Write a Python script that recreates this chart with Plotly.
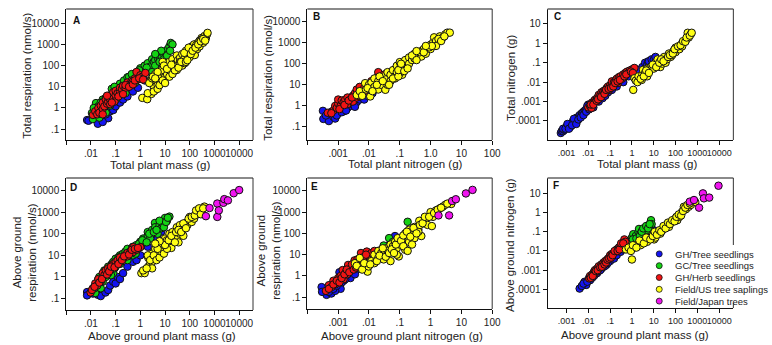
import plotly.graph_objects as go

W, H = 772, 345
def px(x): return x / W
def py(y): return 1 - y / H

SERIES = ["GH/Tree seedlings", "GC/Tree seedlings", "GH/Herb seedlings", "Field/US tree saplings", "Field/Japan trees"]
COLORS = ["#1414f0", "#14d214", "#f01414", "#ffff14", "#f014f0"]

# Each series: list of (x, y) points.
# ---------------- Panel A: total plant mass (g) vs total respiration (nmol/s)
A_blue = [(0.007,0.27),(0.008,0.25),(0.019,0.18),(0.05,0.33),(0.03,0.22),(0.012,0.35),(0.025,0.45),(0.04,0.5),(0.06,0.7),
          (0.08,0.8),(0.1,1.2),(0.15,1.8),(0.2,2.5),(0.3,3.5),(0.5,6),(0.8,9),(1.5,20),(3,45),(5,120),(7,150),(9,200)]
A_green = [(0.011,0.58),(0.012,0.3),(0.015,0.9),(0.016,1.7),(0.018,0.5),(0.02,1.2),(0.022,0.35),(0.025,0.8),(0.03,1.5),(0.03,2.5),
           (0.035,1),(0.04,3),(0.045,1.8),(0.05,2),(0.06,4),(0.06,1.3),(0.07,8),(0.08,3),(0.09,5),(0.1,2.5),(0.1,7),(0.12,10),
           (0.14,4),(0.15,14),(0.18,8),(0.2,12),(0.22,20),(0.25,10),(0.3,15),(0.3,28),(0.35,18),(0.4,25),(0.5,20),(0.5,29),
           (0.6,35),(0.7,30),(0.8,45),(1,75),(1.1,50),(1.3,60),(1.5,100),(2,130),(2.1,70),(2.5,90),(2.5,17),(3,200),(3.5,150),
           (4,180),(5,316),(5.2,220),(6,250),(7,300),(8,400),(10,440),(11,350),(13,600),(15,800),(17,1170),(20,1000),
           (0.013,1),(0.025,1.8),(0.04,0.6),(0.07,2),(0.09,10),(0.11,3),(0.16,6),(0.25,5),(0.35,30),(0.45,40),(0.6,15),
           (0.9,60),(1.2,25),(1.8,80),(3,50),(4,100),(6,150),(9,200),(12,300),(16,500),(7,500),(4,350)]
A_red = [(0.012,0.47),(0.015,0.7),(0.018,0.5),(0.02,1),(0.022,0.6),(0.025,1.3),(0.03,0.9),(0.03,1.8),(0.035,1.2),(0.04,2.5),
         (0.045,1.6),(0.05,2),(0.05,3.2),(0.06,2.5),(0.07,4),(0.08,3),(0.08,5.5),(0.1,4),(0.1,6.5),(0.12,5),(0.15,6),(0.15,9),
         (0.18,8),(0.2,11),(0.25,9),(0.3,13),(0.3,16),(0.4,14),(0.45,20),(0.5,18),(0.6,25),(0.7,50),(0.8,22),(1,35),(1.2,30),
         (1.6,45),(0.03,0.5),(0.06,1.5),(0.09,2),(0.13,3.5),(0.2,4.5),(0.25,12),(0.35,10),(0.5,13),(0.6,20),(0.9,25),
         (1.3,22),(0.045,3.8),(0.07,1.8)]
A_yellow = [(1.2,3),(1.9,2.6),(2.8,4.6),(4,7),(3.5,10),(2.7,21),(2.3,15),(3,25),(4.5,18),(5,12),(6,20),(5,35),(7,30),(8,50),
            (4,40),(3.2,30),(6.5,15),(9,60),(10,29),(10,80),(12,100),(15,50),(15,150),(17,85),(20,80),(20,200),(25,120),
            (30,62),(30,300),(33,180),(40,230),(40,150),(50,100),(50,350),(60,200),(63,130),(70,500),(80,300),(100,550),
            (100,250),(120,800),(150,400),(150,1000),(160,316),(200,600),(210,1170),(250,1500),(250,800),(300,2000),
            (350,1200),(400,2500),(450,2000),(500,3000),(525,3500),(8,150),(12,40),(25,90),(40,130),(60,400),(90,700),
            (180,900),(300,1700),(15,30),(20,40),(25,60),(35,80),(45,150),(70,150),(80,180),(110,350),(130,500),(170,700),
            (220,1000),(280,1400),(350,1800),(420,1500),(2,5),(3.5,6),(5,8),(6,12),(8,20),(10,15),(7,60),(9,100),(12,70),
            (18,110),(5,50),(4,25)]

# ---------------- Panel B: total plant nitrogen (g) vs total respiration
B_blue = [(0.00032,0.58),(0.00033,0.24),(0.0005,0.19),(0.0006,0.52),(0.0007,0.3),(0.0008,0.25),(0.001,0.45),(0.0012,0.6),
          (0.0015,0.55),(0.002,0.8),(0.0025,1),(0.003,1.2),(0.004,1.5),(0.005,2),(0.006,2.5),(0.008,4),(0.01,6),(0.012,5),
          (0.015,10),(0.02,27),(0.03,30),(0.05,40),(0.08,60),(0.0004,0.35),(0.0009,0.35),(0.0013,0.5),(0.0018,0.6),
          (0.0035,0.9),(0.007,2),(0.009,3),(0.013,4),(0.02,8),(0.04,15)]
B_red = [(0.00046,0.47),(0.0007,0.6),(0.0008,1),(0.0009,0.8),(0.001,1.3),(0.001,2),(0.0012,1),(0.0013,1.8),(0.0015,1.5),
         (0.0017,2),(0.002,1.2),(0.002,2.5),(0.0025,2),(0.003,3),(0.003,1.6),(0.0035,4),(0.004,2.5),(0.004,6),(0.005,4),
         (0.005,8),(0.006,5),(0.007,7),(0.008,6),(0.009,9),(0.01,10),(0.012,8),(0.015,12),(0.02,15),(0.02,40),(0.03,20),
         (0.035,25),(0.012,15),(0.018,18),(0.0006,0.45),(0.0011,0.7),(0.0016,1.1),(0.0022,1.8),(0.0028,2.5),(0.0045,3),
         (0.007,4.5),(0.011,7),(0.014,9),(0.025,12),(0.03,30)]
B_yellow = [(0.004,3.3),(0.005,5),(0.0075,12),(0.008,6),(0.01,10),(0.011,2.8),(0.012,13),(0.015,8),(0.015,20),(0.02,6),
            (0.02,15),(0.025,10),(0.03,25),(0.034,5.8),(0.035,18),(0.04,40),(0.05,15),(0.05,30),(0.06,50),(0.07,25),
            (0.08,80),(0.08,40),(0.1,60),(0.1,120),(0.12,30),(0.13,100),(0.15,150),(0.15,70),(0.2,200),(0.2,100),
            (0.25,150),(0.3,300),(0.3,180),(0.4,250),(0.5,400),(0.5,220),(0.6,500),(0.7,300),(0.8,600),(1,800),(1,500),
            (1.2,1000),(1.3,1800),(1.5,1200),(1.5,700),(2,1500),(2,2000),(2.5,1800),(3,2500),(3.5,3000),(4.2,3000),
            (0.04,10),(0.07,20),(0.1,35),(0.006,3),(0.009,7),(0.013,5),(0.018,10),(0.022,25),(0.028,15),(0.045,10),
            (0.06,20),(0.09,25),(0.09,50),(0.11,100),(0.14,45),(0.18,60),(0.25,250),(0.35,150),(0.45,350),(0.6,350),
            (0.9,600),(1.1,700),(1.8,1500),(2.2,1200),(2.8,2000),(0.7,700),(0.35,400)]

# ---------------- Panel C: total plant mass (g) vs total nitrogen (g)
C_blue = [(0.00055,0.000024),(0.0006,0.00003),(0.0007,0.00003),(0.0008,0.000035),(0.001,0.00005),(0.0012,0.00005),
          (0.0015,0.00007),(0.0015,0.00005),(0.002,0.0001),(0.002,0.00008),(0.0025,0.0001),(0.003,0.00015),(0.003,0.0001),
          (0.004,0.0002),(0.005,0.00025),(0.005,0.0002),(0.006,0.0003),(0.007,0.00035),(0.008,0.0004),(0.01,0.0005),
          (0.01,0.0007),(0.012,0.0006),(0.015,0.0008),(0.02,0.001),(0.02,0.0012),(0.025,0.0014),(0.03,0.0015),(0.04,0.002),
          (0.05,0.0025),(0.07,0.004),(0.1,0.005),(0.15,0.008),(0.3,0.012),(0.5,0.02),(1,0.03),(1.5,0.04),(3,0.05),(3,0.06),
          (4,0.1),(5,0.08),(5.5,0.115),(6,0.12),(8,0.15),(10,0.14),(12,0.2),
          (0.0007,0.00004),(0.0009,0.00004),(0.0011,0.00007),(0.0013,0.00004),(0.0018,0.00006),(0.0022,0.00013),
          (0.0028,0.00007),(0.0035,0.00012),(0.0045,0.00015),(0.006,0.0002),(0.008,0.0003),(0.009,0.0006),(0.011,0.0004),
          (0.014,0.0006),(0.017,0.0005),(0.03,0.001),(0.035,0.002),(0.045,0.0015),(0.06,0.002),(0.08,0.003),(0.12,0.004),
          (0.2,0.006),(0.25,0.01),(0.4,0.01),(0.7,0.02),(2,0.04)]
C_red = [(0.01,0.0005),(0.012,0.0006),(0.014,0.00047),(0.015,0.0009),(0.018,0.001),(0.02,0.0012),(0.022,0.001),(0.025,0.0015),
         (0.03,0.0017),(0.03,0.0022),(0.035,0.002),(0.04,0.003),(0.045,0.0025),(0.05,0.0035),(0.06,0.004),(0.06,0.003),
         (0.07,0.005),(0.08,0.006),(0.09,0.004),(0.1,0.007),(0.12,0.008),(0.12,0.011),(0.15,0.01),(0.18,0.012),(0.2,0.015),
         (0.23,0.009),(0.25,0.018),(0.3,0.02),(0.35,0.015),(0.4,0.025),(0.5,0.03),(0.5,0.022),(0.6,0.035),(0.7,0.03),
         (0.8,0.04),(1,0.045),(1.2,0.05),(1.3,0.054),(0.013,0.0007),(0.017,0.0007),(0.024,0.0011),(0.028,0.0013),
         (0.038,0.0017),(0.055,0.0025),(0.065,0.004),(0.085,0.0045),(0.11,0.005),(0.14,0.006),(0.17,0.009),(0.22,0.011),
         (0.28,0.013),(0.45,0.02),(0.55,0.025),(0.9,0.035),(1.1,0.03)]
C_yellow = [(1.15,0.004),(1.3,0.016),(1.5,0.012),(1.8,0.01),(2,0.02),(2.8,0.013),(3,0.025),(3.2,0.043),(4,0.03),(5,0.02),
            (5,0.05),(6,0.04),(7,0.06),(8,0.07),(10,0.05),(11,0.077),(12,0.1),(15,0.08),(15,0.15),(20,0.06),(20,0.12),
            (25,0.09),(30,0.2),(35,0.1),(40,0.15),(50,0.3),(60,0.2),(70,0.25),(80,0.4),(100,0.6),(100,0.35),(120,0.5),
            (150,0.5),(200,1),(200,0.7),(250,1.2),(300,1.5),(360,3.5),(400,2),(500,3),(2.5,0.015),(3.5,0.02),(4.5,0.04),
            (6,0.03),(9,0.08),(13,0.06),(18,0.1),(22,0.15),(28,0.12),(45,0.2),(55,0.25),(75,0.3),(90,0.5),(130,0.7),
            (170,0.8),(220,1.3),(280,1.2),(320,2),(450,2.5),(550,3.5)]

# ---------------- Panel D: above ground plant mass (g) vs above ground respiration
D_blue = [(0.007,0.2),(0.007,0.14),(0.012,0.17),(0.019,0.15),(0.025,0.13),(0.039,0.19),(0.05,0.25),(0.06,0.4),(0.08,0.6),
          (0.1,0.5),(0.12,1),(0.15,0.8),(0.2,1.5),(0.3,3),(0.5,5),(0.7,6),(1,10),(2,25),(4,52),(5,60),(7,125)]
D_green = [(0.012,0.25),(0.015,0.18),(0.018,0.4),(0.02,0.8),(0.021,0.53),(0.025,0.3),(0.03,1.2),(0.03,0.6),(0.035,2),
           (0.04,1),(0.05,1.5),(0.05,3),(0.06,2),(0.07,4),(0.08,1.5),(0.08,5),(0.1,3),(0.1,7),(0.12,5),(0.15,4),(0.15,10),
           (0.2,8),(0.2,12),(0.25,15),(0.3,6),(0.3,20),(0.4,14),(0.5,10),(0.5,25),(0.6,18),(0.7,30),(0.8,22),(1,43),
           (1.1,30),(1.3,60),(1.5,45),(2,80),(2,120),(2.5,60),(3,150),(3.9,316),(4,200),(5,100),(6,250),(7,180),(8,300),
           (10,540),(12,400),(15,620),(0.014,0.3),(0.022,1),(0.027,0.8),(0.045,2),(0.065,1.2),(0.09,2.5),(0.11,4),
           (0.13,8),(0.18,6),(0.23,10),(0.35,12),(0.45,20),(0.65,12),(0.9,35),(1.2,50),(1.8,40),(2.3,100),(3.5,120),
           (4.5,150),(6,400),(9,200),(11,350),(13,550)]
D_red = [(0.0097,0.19),(0.012,0.3),(0.015,0.5),(0.018,0.4),(0.02,0.8),(0.025,0.6),(0.03,1),(0.03,1.5),(0.035,1.2),(0.04,2),
         (0.05,1.5),(0.05,2.5),(0.06,2.2),(0.07,3),(0.08,4),(0.1,3.5),(0.1,5),(0.12,6),(0.15,5),(0.15,8),(0.2,7),(0.25,10),
         (0.3,9),(0.3,13),(0.4,15),(0.5,14),(0.52,24),(0.7,18),(1,24),(0.011,0.25),(0.014,0.35),(0.022,0.55),(0.028,0.8),
         (0.045,1.3),(0.055,1.8),(0.065,3),(0.09,2.8),(0.13,4),(0.18,6),(0.22,9),(0.35,11),(0.45,18),(0.6,20),(0.8,22)]
D_yellow = [(1.1,1.5),(1.5,1.5),(2.1,3),(2.1,7.6),(2.5,4),(3,5),(3,12),(4,8),(4,20),(5,10),(5,30),(6,15),(7,40),(8,25),
            (10,20),(10,60),(12,35),(15,30),(15,100),(20,50),(20,120),(25,70),(30,60),(30,200),(40,100),(40,250),(50,150),
            (60,200),(69,316),(80,250),(100,400),(100,600),(120,350),(150,500),(200,800),(210,1050),(250,900),(300,1200),
            (390,1800),(2,10),(3,2.5),(8,12),(12,50),(18,22),(35,40),(55,80),(1.3,2),(1.8,2.5),(2.5,6),(3.5,10),(4.5,6),
            (6,8),(7,15),(9,12),(12,20),(10,30),(14,50),(18,80),(25,40),(28,120),(35,150),(45,120),(55,300),(70,180),
            (90,500),(120,600),(160,700),(180,1200),(240,1500),(280,800),(350,1500),(6,45),(5,20),(4,35)]
D_magenta = [(450,650),(630,1550),(1300,600),(1300,2500),(1500,1200),(2300,2700),(2500,4000),(3500,3500),(6000,7500),(10000,10500)]

# ---------------- Panel E: above ground plant nitrogen (g) vs above ground respiration
E_blue = [(0.00029,0.3),(0.00042,0.13),(0.0006,0.15),(0.0011,0.64),(0.0011,1.5),(0.0012,0.25),(0.0008,0.2),(0.0015,0.6),
          (0.002,1),(0.0025,0.8),(0.003,1.5),(0.004,2),(0.005,2.5),(0.007,3),(0.01,5),(0.015,8),(0.02,12),(0.03,20),
          (0.05,35),(0.07,75),(0.0003,0.18),(0.0005,0.18),(0.0007,0.25),(0.0009,0.35),(0.0013,0.5),(0.0017,0.7),
          (0.0035,1.2),(0.006,2.2),(0.012,6),(0.04,25)]
E_green = [(0.015,8),(0.02,15),(0.03,27),(0.04,20),(0.045,60),(0.06,40),(0.18,350)]
E_red = [(0.0004,0.2),(0.0005,0.37),(0.0006,0.3),(0.0007,0.6),(0.0008,0.4),(0.001,0.5),(0.001,0.8),(0.0012,1),(0.0014,1.9),
         (0.0015,0.7),(0.0018,1.5),(0.002,1.2),(0.0021,3.3),(0.0025,2),(0.003,2.5),(0.0034,5.4),(0.004,4),(0.0045,3),
         (0.005,6),(0.0055,12),(0.006,5),(0.007,8),(0.0085,14),(0.01,9),(0.012,12),(0.015,15),(0.0005,0.25),(0.0007,0.4),
         (0.0009,0.6),(0.0011,0.5),(0.0013,0.8),(0.0016,1.2),(0.0019,2),(0.0023,1.5),(0.0028,3.5),(0.0032,2),(0.0038,2.5),
         (0.0042,6),(0.0065,7),(0.008,10)]
E_yellow = [(0.0035,4),(0.005,7),(0.009,1.6),(0.0097,2.8),(0.012,5),(0.015,4),(0.015,10),(0.02,7),(0.02,15),(0.025,12),
            (0.03,10),(0.035,20),(0.04,15),(0.05,5),(0.05,30),(0.06,25),(0.07,40),(0.08,20),(0.093,8.3),(0.1,60),(0.1,30),
            (0.12,50),(0.15,17),(0.15,100),(0.2,40),(0.2,150),(0.25,80),(0.3,60),(0.3,200),(0.4,150),(0.43,390),(0.5,75),
            (0.6,300),(0.7,500),(0.8,250),(1,1000),(1.1,220),(1.2,600),(1.5,1200),(2,1500),(2.5,1800),(3,2200),(4.7,2400),
            (0.08,10),(0.03,6),(0.4,120),(0.004,3),(0.006,2),(0.007,4),(0.011,3.5),(0.018,5),(0.022,9),(0.028,20),
            (0.035,8),(0.045,12),(0.055,18),(0.065,12),(0.075,30),(0.085,60),(0.11,45),(0.13,80),(0.13,25),(0.17,120),
            (0.22,70),(0.28,180),(0.35,100),(0.45,250),(0.55,300),(0.65,600),(0.9,600),(1.3,900),(1.7,1300),(2.2,1600),
            (3.5,2500),(0.25,30),(0.18,15)]
E_magenta = [(1.8,700),(4,700),(5,3300),(6.6,4000),(14,7500),(23,11000)]

# ---------------- Panel F: above ground plant mass (g) vs above ground nitrogen (g)
F_blue = [(0.004,0.00011),(0.0068,0.00025),(0.008,0.00017),(0.01,0.0003),(0.012,0.0003),(0.015,0.0004),(0.02,0.0006),
          (0.025,0.0007),(0.03,0.0009),(0.04,0.0012),(0.05,0.0015),(0.07,0.002),(0.1,0.003),(0.15,0.004),(0.2,0.006),
          (0.3,0.009),(0.5,0.015),(3,0.05),(5,0.08),(7,0.1),(10,0.12),(0.005,0.00015),(0.006,0.0002),(0.009,0.00025),
          (0.011,0.0004),(0.018,0.0005),(0.035,0.001),(0.06,0.0017),(0.08,0.0025),(0.4,0.012),(4,0.06),(6,0.1),(8,0.11)]
F_green = [(0.76,0.034),(1,0.05),(1.15,0.075),(1.5,0.06),(2,0.1),(2.1,0.14),(2.5,0.08),(3,0.12),(3.5,0.1),(4,0.15),(5,0.12),
           (6,0.2),(7.3,0.31),(7.5,0.4),(8,0.25),(0.9,0.02),(1.3,0.04),(1.8,0.03),(0.8,0.025),(1.1,0.04),(1.6,0.045),
           (2.3,0.06),(2.8,0.1),(3.3,0.15),(4.5,0.2),(5.5,0.15),(6.5,0.25)]
F_red = [(0.011,0.00037),(0.012,0.0005),(0.015,0.0006),(0.018,0.0008),(0.02,0.0007),(0.02,0.001),(0.025,0.0012),(0.03,0.0012),
         (0.03,0.0016),(0.04,0.002),(0.045,0.0018),(0.05,0.0025),(0.06,0.003),(0.07,0.003),(0.08,0.004),(0.1,0.005),
         (0.1,0.006),(0.12,0.007),(0.15,0.008),(0.18,0.01),(0.2,0.012),(0.25,0.015),(0.3,0.018),(0.35,0.02),(0.45,0.04),
         (0.5,0.03),(0.013,0.0004),(0.016,0.0005),(0.022,0.0009),(0.027,0.001),(0.035,0.0014),(0.042,0.0015),(0.055,0.002),
         (0.065,0.0025),(0.075,0.0035),(0.09,0.004),(0.11,0.0045),(0.13,0.006),(0.16,0.01),(0.22,0.01),(0.27,0.012),
         (0.32,0.025),(0.4,0.025)]
F_yellow = [(0.53,0.012),(1,0.0036),(1.3,0.015),(1.5,0.02),(2,0.025),(2.5,0.02),(3,0.03),(4,0.04),(5,0.03),(6,0.05),(8,0.06),
            (10,0.08),(10.4,0.04),(12,0.05),(15,0.1),(20,0.08),(25,0.12),(30,0.15),(40,0.2),(50,0.18),(60,0.3),(80,0.35),
            (100,0.5),(120,0.4),(150,0.6),(200,1.1),(240,2),(300,1.5),(400,2),(500,2.5),(680,4.2),(800,3.5),(0.7,0.015),
            (0.9,0.01),(1.1,0.02),(1.6,0.015),(2.2,0.035),(3.5,0.025),(4.5,0.05),(7,0.04),(9,0.06),(11,0.1),(14,0.07),
            (18,0.12),(22,0.1),(28,0.2),(35,0.15),(45,0.3),(55,0.25),(70,0.4),(90,0.35),(110,0.6),(140,0.8),(180,0.7),
            (220,1.2),(280,1.8),(350,2.5),(450,3)]
F_magenta = [(450,3.7),(700,4.5),(1200,1.8),(1800,10),(2000,5.5),(3500,6),(9300,25)]

# tick labels
MASS_VALS = [0.001,0.01,0.1,1,10,100,1000,10000]
MASS_TEXT_AD = ["", ".01", ".1", "1", "10", "100", "1000", "10000"]
MASS_TEXT_CF = [".001", ".01", ".1", "1", "10", "100", "1000", "10000"]
N_VALS = [0.0001,0.001,0.01,0.1,1,10,100]
N_TEXT_B = ["", ".001", ".01", ".1", "1.0", "10", "100"]
N_TEXT_E = ["", ".001", ".01", ".1", "1", "10", "100"]
RESP_VALS = [0.1,1,10,100,1000,10000]
RESP_TEXT = [".1", "1", "10", "100", "1000", "10000"]
NIT_VALS = [0.0001,0.001,0.01,0.1,1,10]
NIT_TEXT = [".0001", ".001", ".01", ".1", "1", "10"]

panels = [
    dict(L="A", xd=(67,256), yd=(9,140), xr=(-3,4.56), yr=(-1.51,4.67), xv=MASS_VALS, xt=MASS_TEXT_AD, yv=RESP_VALS, yt=RESP_TEXT,
         data=[(A_blue,0),(A_green,1),(A_red,2),(A_yellow,3)], xfs=10,
         xtitle=("Total plant mass (g)",162,165), ytitle=("Total respiration (nmol/s)",27,76), lab=(77,20)),
    dict(L="B", xd=(311,498), yd=(9,140), xr=(-4,2), yr=(-1.62,4.6), xv=N_VALS, xt=N_TEXT_B, yv=RESP_VALS, yt=RESP_TEXT,
         data=[(B_blue,0),(B_red,2),(B_yellow,3)], xfs=10,
         xtitle=("Total plant nitrogen (g)",410,164), ytitle=("Total respiration (nmol/s)",271,78), lab=(320,17)),
    dict(L="C", xd=(554,742), yd=(9,140), xr=(-3.87,4.65), yr=(-4.98,1.77), xv=MASS_VALS, xt=MASS_TEXT_CF, yv=NIT_VALS, yt=NIT_TEXT,
         data=[(C_blue,0),(C_red,2),(C_yellow,3)], xfs=9,
         xtitle=("Total plant mass (g)",655,164), ytitle=("Total nitrogen (g)",517,78), lab=(564,17)),
    dict(L="D", xd=(67,256), yd=(178,310), xr=(-3,4.56), yr=(-1.53,4.58), xv=MASS_VALS, xt=MASS_TEXT_AD, yv=RESP_VALS, yt=RESP_TEXT,
         data=[(D_blue,0),(D_green,1),(D_red,2),(D_yellow,3),(D_magenta,4)], xfs=10,
         xtitle=("Above ground plant mass (g)",164,335.5), ytitle=("Above ground<br>respiration (nmol/s)",24,252), lab=(74,187)),
    dict(L="E", xd=(311,498), yd=(178,309), xr=(-4,2), yr=(-1.55,4.6), xv=N_VALS, xt=N_TEXT_E, yv=RESP_VALS, yt=RESP_TEXT,
         data=[(E_blue,0),(E_green,1),(E_red,2),(E_yellow,3),(E_magenta,4)], xfs=10,
         xtitle=("Above ground plant nitrogen (g)",407,335.5), ytitle=("Above ground<br>respiration (nmol/s)",271,250), lab=(318,186)),
    dict(L="F", xd=(554,742), yd=(178,308), xr=(-3.87,4.65), yr=(-4.97,1.8), xv=MASS_VALS, xt=MASS_TEXT_CF, yv=NIT_VALS, yt=NIT_TEXT,
         data=[(F_blue,0),(F_green,1),(F_red,2),(F_yellow,3),(F_magenta,4)], xfs=9,
         xtitle=("Above ground plant mass (g)",642,335), ytitle=("Above ground nitrogen (g)",516,245), lab=(563,185)),
]

FONT = "Liberation Sans, Arial, sans-serif"
TXT = "#222222"
fig = go.Figure()
layout = dict(width=W, height=H, margin=dict(l=0, r=0, t=0, b=0), showlegend=False,
              paper_bgcolor="white", plot_bgcolor="white", font=dict(family=FONT, color=TXT, size=10))
annotations, shapes = [], []

for i, p in enumerate(panels):
    n = i + 1
    xa = "xaxis" if n == 1 else f"xaxis{n}"
    ya = "yaxis" if n == 1 else f"yaxis{n}"
    xref = "x" if n == 1 else f"x{n}"
    yref = "y" if n == 1 else f"y{n}"
    common = dict(type="log", showline=True, linecolor="#111", linewidth=1, ticks="outside", ticklen=4, tickangle=0,
                  tickcolor="#111", showgrid=False, zeroline=False)
    layout[xa] = dict(common, domain=[px(p["xd"][0]), px(p["xd"][1])], range=list(p["xr"]), anchor=yref,
                      tickmode="array", tickvals=p["xv"], ticktext=p["xt"],
                      tickfont=dict(size=p["xfs"], family=FONT, color=TXT))
    layout[ya] = dict(common, domain=[py(p["yd"][1]), py(p["yd"][0])], range=list(p["yr"]), anchor=xref,
                      tickmode="array", tickvals=p["yv"], ticktext=p["yt"],
                      tickfont=dict(size=10, family=FONT, color=TXT))
    for pts, k in p["data"]:
        xs = [a for a, b in pts]
        ys = [b for a, b in pts]
        fig.add_trace(go.Scatter(x=xs, y=ys, mode="markers", xaxis=xref, yaxis=yref, name=SERIES[k],
                                 marker=dict(size=7.5, color=COLORS[k], line=dict(color="#111", width=1)),
                                 hoverinfo="skip"))
    x0, x1 = px(p["xd"][0]), px(p["xd"][1])
    yt_, yb_ = py(p["yd"][0]), py(p["yd"][1])
    shapes.append(dict(type="line", xref="paper", yref="paper", x0=x0, x1=x1, y0=yt_, y1=yt_,
                       line=dict(color="#8a8a8a", width=2)))
    if p["L"] == "F":
        shapes.append(dict(type="line", xref="paper", yref="paper", x0=x1, x1=x1, y0=yt_, y1=py(245),
                           line=dict(color="#333", width=1)))
        shapes.append(dict(type="line", xref="paper", yref="paper", x0=x1, x1=x1, y0=py(303), y1=yb_,
                           line=dict(color="#333", width=1)))
    else:
        shapes.append(dict(type="line", xref="paper", yref="paper", x0=x1, x1=x1, y0=yt_, y1=yb_,
                           line=dict(color="#333", width=1)))
    t, tx, ty = p["xtitle"]
    annotations.append(dict(text=t, x=px(tx), y=py(ty), xref="paper", yref="paper", showarrow=False,
                            font=dict(size=11.5, family=FONT, color=TXT), xanchor="center", yanchor="middle"))
    t, tx, ty = p["ytitle"]
    annotations.append(dict(text=t, x=px(tx), y=py(ty), xref="paper", yref="paper", showarrow=False, textangle=-90,
                            font=dict(size=11.5, family=FONT, color=TXT), xanchor="center", yanchor="middle"))
    lx, ly = p["lab"]
    annotations.append(dict(text="<b>%s</b>" % p["L"], x=px(lx), y=py(ly), xref="paper", yref="paper", showarrow=False,
                            font=dict(size=10, family=FONT, color="#111"), xanchor="center", yanchor="middle"))

# custom compact legend (inside panel F)
LEG_ROWS = [0, 1, 2, 3, 4]
layout["xaxis7"] = dict(domain=[px(662), px(672)], range=[-1, 1], visible=False, anchor="y7", fixedrange=True)
layout["yaxis7"] = dict(domain=[py(307), py(248)], range=[4.5, -0.5], visible=False, anchor="x7", fixedrange=True)
fig.add_trace(go.Scatter(x=[0] * 5, y=LEG_ROWS, mode="markers", xaxis="x7", yaxis="y7", hoverinfo="skip",
                         marker=dict(size=6, color=COLORS, line=dict(color="#111", width=0.8))))
row_px = [254, 265.7, 277.5, 289.2, 301]
for name, rp in zip(SERIES, row_px):
    annotations.append(dict(text=name, x=px(681), y=py(rp), xref="paper", yref="paper", showarrow=False,
                            xanchor="left", yanchor="middle", font=dict(size=9.5, family=FONT, color=TXT)))

layout["annotations"] = annotations
layout["shapes"] = shapes
fig.update_layout(**layout)
fig.write_html("out.html")
